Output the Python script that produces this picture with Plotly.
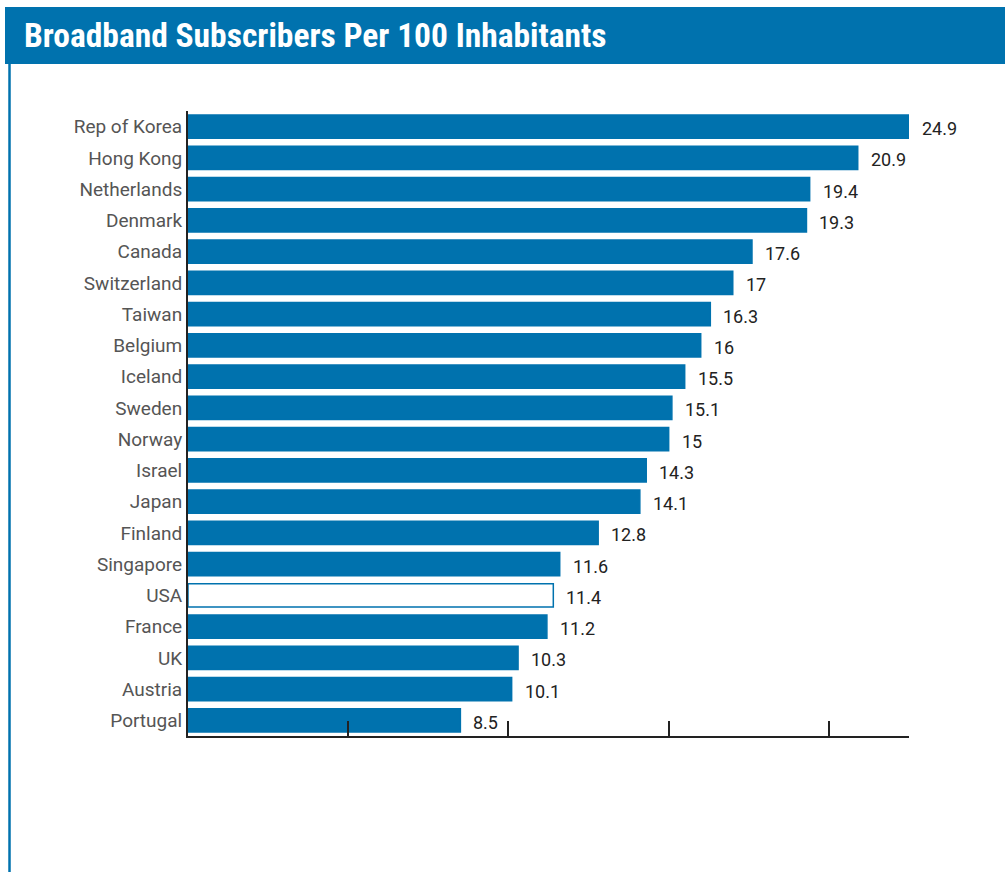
import plotly.graph_objects as go

countries = ["Rep of Korea", "Hong Kong", "Netherlands", "Denmark", "Canada",
             "Switzerland", "Taiwan", "Belgium", "Iceland", "Sweden", "Norway",
             "Israel", "Japan", "Finland", "Singapore", "USA", "France", "UK",
             "Austria", "Portugal"]
values = [24.9, 20.9, 19.4, 19.3, 17.6, 17, 16.3, 16, 15.5, 15.1, 15, 14.3,
          14.1, 12.8, 11.6, 11.4, 11.2, 10.3, 10.1, 8.5]
value_labels = ["24.9", "20.9", "19.4", "19.3", "17.6", "17", "16.3", "16",
                "15.5", "15.1", "15", "14.3", "14.1", "12.8", "11.6", "11.4",
                "11.2", "10.3", "10.1", "8.5"]
highlight = "USA"
x_max = 22.5
tick_vals = [5, 10, 15, 20]

BLUE = "#0072AE"
fill = ["white" if c == highlight else BLUE for c in countries]

W, H = 1005, 872
L, R, T, B = 188, 96, 111, 136
pw, ph = W - L - R, H - T - B


def px_x(p):
    return (p - L) / pw


def px_y(p):
    return (H - B - p) / ph


fig = go.Figure()
fig.add_trace(go.Bar(
    y=countries, x=values, orientation="h",
    marker=dict(color=fill, line=dict(color=BLUE, width=1.5)),
    width=0.74, hoverinfo="x+y", cliponaxis=True,
))

annotations = []
for c, v, t in zip(countries, values, value_labels):
    annotations.append(dict(
        x=min(v, x_max), y=c, xref="x", yref="y", text=t, showarrow=False,
        xanchor="left", yanchor="middle", xshift=11, yshift=-2,
        font=dict(family="Roboto", size=18, color="#222222"),
    ))

shapes = [
    dict(type="rect", xref="paper", yref="paper",
         x0=px_x(5), x1=px_x(1010), y0=px_y(64), y1=px_y(7),
         fillcolor=BLUE, line=dict(width=0), layer="below"),
    dict(type="line", xref="paper", yref="paper",
         x0=px_x(9.5), x1=px_x(9.5), y0=px_y(63), y1=px_y(880),
         line=dict(color=BLUE, width=2.5)),
]

fig.update_layout(
    width=W, height=H,
    margin=dict(l=L, r=R, t=T, b=B, pad=0),
    paper_bgcolor="white", plot_bgcolor="white",
    showlegend=False,
    title=dict(text="<b>Broadband Subscribers Per 100 Inhabitants</b>",
               x=24 / W, xanchor="left", xref="container",
               y=1 - 35 / H, yanchor="middle", yref="container",
               font=dict(family="Roboto Condensed, Roboto", size=33.5, color="white")),
    xaxis=dict(range=[0, x_max], showgrid=False, zeroline=False,
               showline=True, linecolor="#222222", linewidth=2,
               tickvals=tick_vals, ticks="inside", ticklen=15, tickwidth=2,
               tickcolor="#222222", showticklabels=False, fixedrange=True),
    yaxis=dict(autorange="reversed", showgrid=False, zeroline=False,
               showline=True, linecolor="#222222", linewidth=2,
               ticks="", ticklabelstandoff=0,
               tickfont=dict(family="Roboto", size=19, color="#555555")),
    annotations=annotations,
    shapes=shapes,
    bargap=0.26,
)

fig.write_html("out.html", config={"displayModeBar": False},
               post_script="document.body.style.margin='0';document.body.style.padding='0';")
